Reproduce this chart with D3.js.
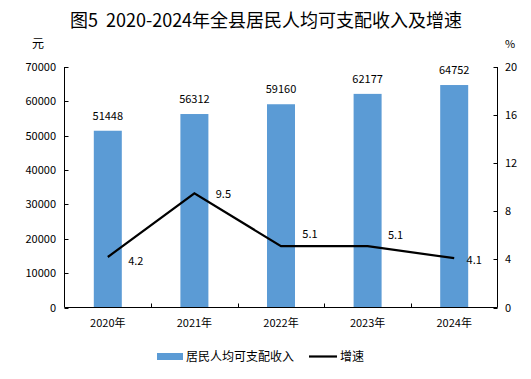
<!DOCTYPE html>
<html><head><meta charset="utf-8">
<script src="https://cdn.jsdelivr.net/npm/d3@7"></script>
<style>body{margin:0;background:#fff}svg{display:block}text{font-family:"Noto Sans CJK SC","Noto Sans",sans-serif;fill:#000;white-space:pre}</style>
</head><body><svg id="c" width="531" height="379"></svg>
<script>
const categories = ["2020年","2021年","2022年","2023年","2024年"];
const incomeValues = [51448,56312,59160,62177,64752];
const growthValues = [4.2,9.5,5.1,5.1,4.1];
const leftTicks = [0,10000,20000,30000,40000,50000,60000,70000];
const rightTicks = [0,4,8,12,16,20];

const svg = d3.select("#c");
const L=64.5, R=497.5, T=67, B=307.5;
const x = d3.scaleBand().domain(categories).range([L,R]);
const yL = d3.scaleLinear().domain([0,70000]).range([B,T]);
const yR = d3.scaleLinear().domain([0,20]).range([B,T]);

svg.append("text").attr("x",266).attr("y",27).attr("text-anchor","middle").attr("font-size",18).text("图5  2020-2024年全县居民人均可支配收入及增速");
svg.append("text").attr("x",38).attr("y",48).attr("text-anchor","middle").attr("font-size",12).text("元");
svg.append("text").attr("x",510).attr("y",48).attr("text-anchor","middle").attr("font-size",11).text("%");

const bw=28;
svg.selectAll("rect.bar").data(incomeValues).join("rect").attr("class","bar")
 .attr("x",(d,i)=>x(categories[i])+x.bandwidth()/2-bw/2).attr("width",bw)
 .attr("y",d=>yL(d)).attr("height",d=>B-yL(d)).attr("fill","#5B9BD5");

svg.selectAll("text.bl").data(incomeValues).join("text").attr("class","bl")
 .attr("x",(d,i)=>x(categories[i])+x.bandwidth()/2).attr("y",d=>yL(d)-11)
 .attr("text-anchor","middle").attr("font-size",11).text(d=>d);

// axes
const ax = svg.append("g").attr("stroke","#000").attr("stroke-width",1);
ax.append("line").attr("x1",L).attr("x2",L).attr("y1",T).attr("y2",B);
ax.append("line").attr("x1",R).attr("x2",R).attr("y1",T).attr("y2",B);
ax.append("line").attr("x1",L).attr("x2",R).attr("y1",B).attr("y2",B);
leftTicks.forEach(t=>{const y=Math.round(yL(t))+0.5;ax.append("line").attr("x1",L).attr("x2",L+4).attr("y1",y).attr("y2",y);});
rightTicks.forEach(t=>{const y=Math.round(yR(t))+0.5;ax.append("line").attr("x1",R-4).attr("x2",R).attr("y1",y).attr("y2",y);});
categories.slice(1).forEach(c=>{const xx=Math.round(x(c))+0.5;ax.append("line").attr("x1",xx).attr("x2",xx).attr("y1",B-4).attr("y2",B);});

svg.selectAll("text.lt").data(leftTicks).join("text").attr("class","lt")
 .attr("x",56).attr("y",d=>yL(d)+4).attr("text-anchor","end").attr("font-size",11).text(d=>d);
svg.selectAll("text.rt").data(rightTicks).join("text").attr("class","rt")
 .attr("x",505).attr("y",d=>yR(d)+4).attr("text-anchor","start").attr("font-size",11).text(d=>d);
svg.selectAll("text.xt").data(categories).join("text").attr("class","xt")
 .attr("x",d=>x(d)+x.bandwidth()/2).attr("y",327).attr("text-anchor","middle").attr("font-size",11).text(d=>d);

const line = d3.line().x((d,i)=>x(categories[i])+x.bandwidth()/2).y(d=>yR(d));
svg.append("path").datum(growthValues).attr("d",line).attr("fill","none").attr("stroke","#000").attr("stroke-width",2.2);

const off=[[28,8],[29,5],[29,-8],[28,-7],[20,6]];
svg.selectAll("text.gl").data(growthValues).join("text").attr("class","gl")
 .attr("x",(d,i)=>x(categories[i])+x.bandwidth()/2+off[i][0]).attr("y",(d,i)=>yR(d)+off[i][1])
 .attr("text-anchor","middle").attr("font-size",11).text(d=>d.toFixed(1));

// legend
svg.append("rect").attr("x",157).attr("y",353).attr("width",26).attr("height",7).attr("fill","#5B9BD5");
svg.append("text").attr("x",186).attr("y",361).attr("font-size",12).text("居民人均可支配收入");
svg.append("line").attr("x1",309).attr("x2",337).attr("y1",356.5).attr("y2",356.5).attr("stroke","#000").attr("stroke-width",2.2);
svg.append("text").attr("x",340).attr("y",361).attr("font-size",12).text("增速");
</script></body></html>
